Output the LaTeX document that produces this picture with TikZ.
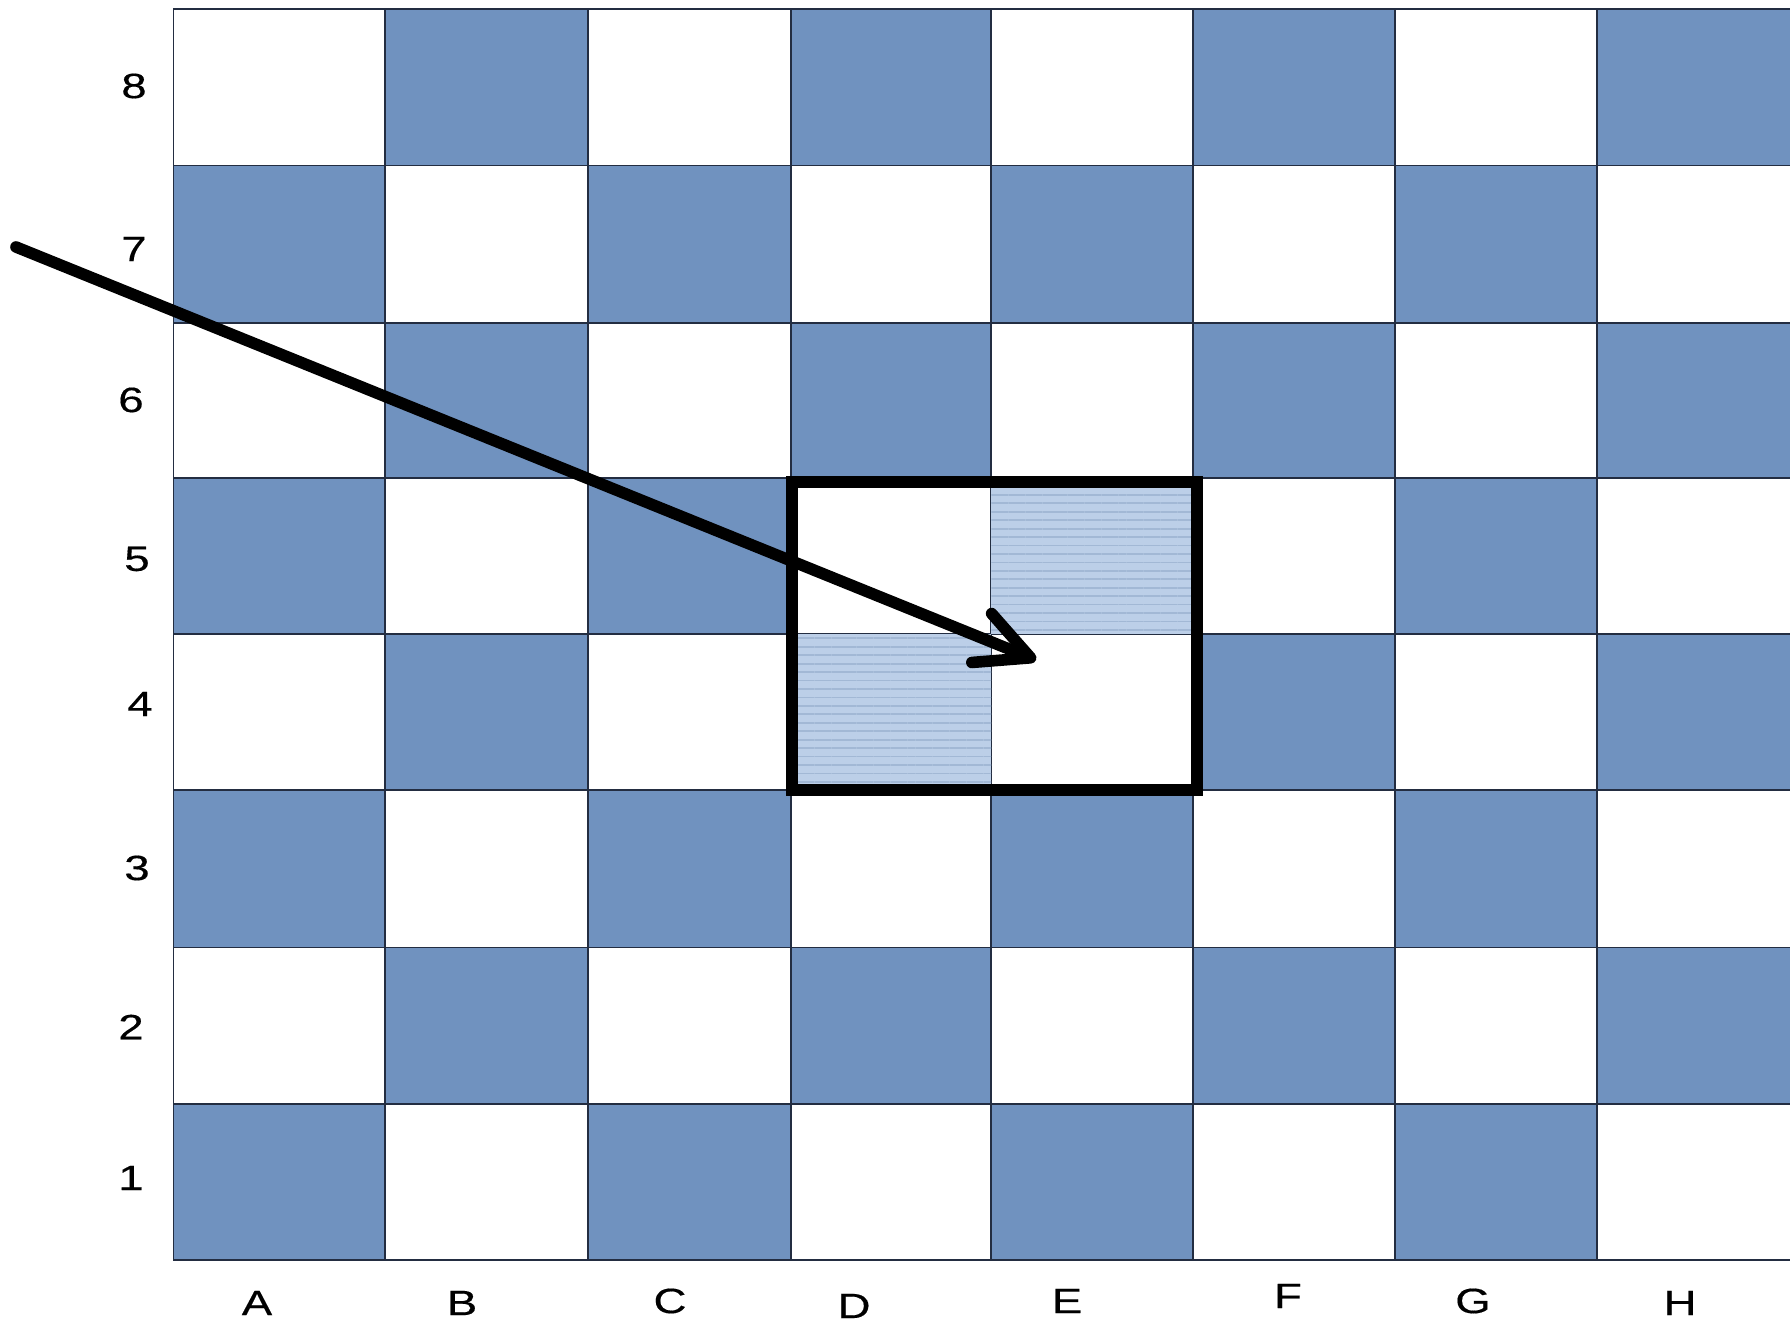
\documentclass[tikz,border=0pt]{standalone}
\usepackage{fontspec}
\setmainfont{Liberation Sans}
\newfontfamily\lblfont[FakeStretch=1.3, FakeBold=0.4]{Liberation Sans}
\usetikzlibrary{arrows.meta,patterns.meta}

\definecolor{boardblue}{RGB}{112,146,191}
\definecolor{paleblue}{RGB}{188,207,232}
\definecolor{gridline}{RGB}{35,45,65}

\begin{document}
\begin{tikzpicture}[x=0.01cm, y=-0.01cm,
    lbl/.style={font=\lblfont\fontsize{10}{12}\selectfont, inner sep=0pt},
    sq/.style={draw=gridline, line width=0.5pt},
    shaded/.style={fill=paleblue, postaction={pattern={Lines[angle=0, distance=2.4pt, line width=0.5pt]}, pattern color=boardblue!65}}]
    \useasboundingbox (0,0) rectangle (1790,1322);
    \clip (0,0) rectangle (1790,1322);

    % Board, rank 8 on top
    \foreach \ya/\yb [count=\r] in {9/165.5, 165.5/323, 323/478, 478/634, 634/790, 790/947.5, 947.5/1104, 1104/1260} {
        \foreach \xa/\xb [count=\c] in {173.5/384.7, 384.7/588, 588/791, 791/991, 991/1193, 1193/1395, 1395/1597, 1597/1800} {
            \pgfmathtruncatemacro\odd{mod(\c+9-\r,2)}
            \ifnum\odd=0
                \path[sq, fill=boardblue] (\xa,\ya) rectangle (\xb,\yb);
            \else
                \path[sq, fill=white] (\xa,\ya) rectangle (\xb,\yb);
            \fi
        }
    }

    % Marked squares E5 and D4
    \path[shaded] (991,478) rectangle (1193,634);
    \path[shaded] (791,634) rectangle (991,790);
    \draw[line width=3.4pt] (792,482) rectangle (1197,790);

    % Labels
    \foreach \n/\x/\y in {8/134/86, 7/134/249, 6/131/400, 5/137/559, 4/140/704, 3/137/868, 2/131/1027, 1/131/1178}
        \node[lbl] (rank\n) at (\x,\y) {\n};
    \foreach \f/\x/\y in {A/257/1303, B/462/1303, C/670/1301, D/854/1306, E/1067/1301, F/1288/1296, G/1473/1301, H/1680/1303}
        \node[lbl] (file\f) at (\x,\y) {\f};

    % Arrow
    \coordinate (tail) at (16,247);
    \coordinate (tip) at (1036,660);
    \draw[line width=3.3pt, line cap=round, -{Straight Barb[length=15pt, width=15pt, round]}] (tail) -- (tip);
\end{tikzpicture}
\end{document}
